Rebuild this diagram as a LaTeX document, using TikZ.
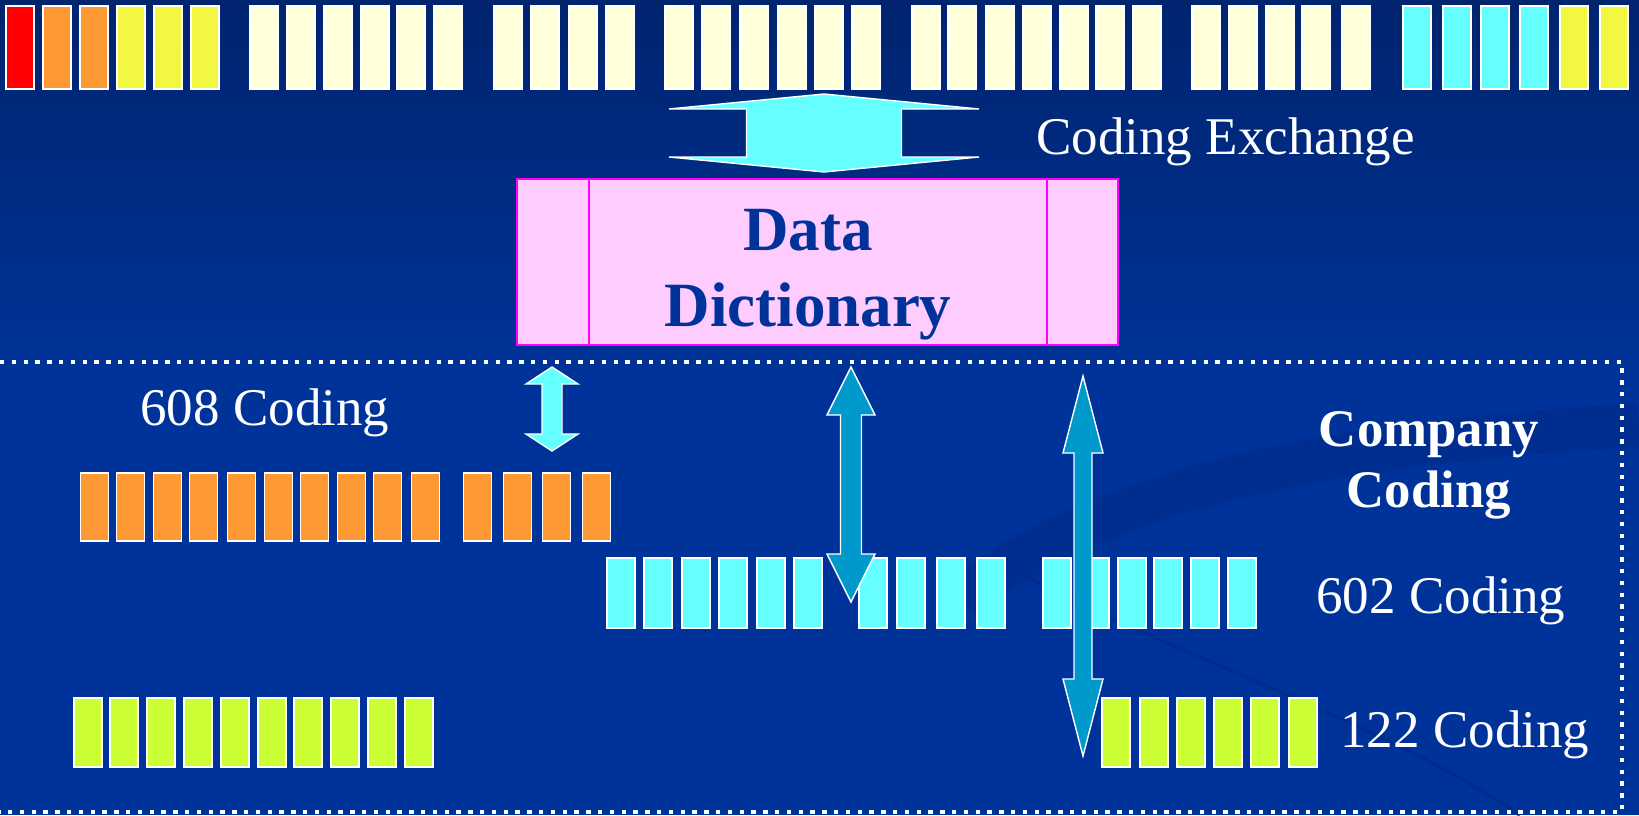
\documentclass[tikz,border=0pt]{standalone}
\usepackage{fontspec}
\setmainfont{Liberation Serif}
\usetikzlibrary{calc}

\definecolor{bgtop}{RGB}{0,36,110}
\definecolor{bgbot}{RGB}{0,51,153}
\definecolor{swoosh}{RGB}{0,44,138}
\definecolor{barred}{RGB}{255,0,0}
\definecolor{barorange}{RGB}{255,153,51}
\definecolor{baryellow}{RGB}{242,248,66}
\definecolor{barcream}{RGB}{255,255,218}
\definecolor{barcyan}{RGB}{102,255,255}
\definecolor{bargreen}{RGB}{204,255,51}
\definecolor{ddpink}{RGB}{255,204,255}
\definecolor{ddedge}{RGB}{255,0,255}
\definecolor{ddtext}{RGB}{0,51,153}
\definecolor{arrowblue}{RGB}{0,153,204}

\newcommand{\fatarrow}[6]{%
  \draw[fat, fill=#1] let \p1=(#2), \p2=(#3) in
    (\x1,\y1) -- (\x1+#5,\y1-#6) -- (\x1+#4,\y1-#6) -- (\x1+#4,\y2+#6)
    -- (\x1+#5,\y2+#6) -- (\x1,\y2) -- (\x1-#5,\y2+#6) -- (\x1-#4,\y2+#6)
    -- (\x1-#4,\y1-#6) -- (\x1-#5,\y1-#6) -- cycle;}

\begin{document}
\begin{tikzpicture}[x=0.5pt, y=-0.5pt,
  bar/.style={draw=white, line width=0.7pt, inner sep=0pt, minimum width=14pt},
  fat/.style={draw=white, line width=0.7pt, line join=miter},
  dict/.style={draw=ddedge, line width=1pt, fill=ddpink, inner sep=0pt, minimum width=300.5pt, minimum height=83pt},
  lbl/.style={text=white, inner sep=0pt, anchor=base west, font=\fontsize{26.5}{30}\selectfont},
  boldlbl/.style={inner sep=0pt, align=center, anchor=north},
  frame/.style={white, line width=2.2pt, dash pattern=on 2.2pt off 3.7pt}]

\useasboundingbox (0,0) rectangle (1639,815);
\shade[top color=bgtop, bottom color=bgbot] (0,0) rectangle (1639,380);
\fill[bgbot] (0,380) rectangle (1639,815);
\draw[swoosh, line width=22pt, opacity=0.6] (960,600) .. controls (1120,470) and (1400,440) .. (1639,425);
\draw[swoosh, line width=2pt, opacity=0.8] (995,560) .. controls (1180,660) and (1380,720) .. (1520,815);

% coding bars
\foreach \x/\c [count=\i] in {6/barred,43/barorange,80/barorange,117/baryellow,154/baryellow,191/baryellow,1403/barcyan,1443/barcyan,1481/barcyan,1520/barcyan,1560/baryellow,1600/baryellow}
  \node[bar] (c\i) [fill=\c, minimum height=41.5pt] at (\x+14,47.5) {};
\foreach \x [count=\i] in {250,287,324,361,397,434,494,531,569,606,665,702,740,778,815,852,912,948,986,1023,1060,1096,1133,1192,1229,1266,1302,1342}
  \node[bar] (w\i) [fill=barcream, minimum height=41.5pt] at (\x+14,47.5) {};
\foreach \x [count=\i] in {81,117,154,190,228,265,301,338,374,412,464,504,543,583}
  \node[bar] (o\i) [fill=barorange, minimum height=34pt] at (\x+13.5,507) {};
\foreach \x [count=\i] in {607,644,682,719,757,794,859,897,937,977,1043,1081,1118,1154,1191,1228}
  \node[bar] (k\i) [fill=barcyan, minimum height=35pt] at (\x+14,593) {};
\foreach \x [count=\i] in {74,110,147,184,221,258,294,331,368,405,1102,1140,1177,1214,1251,1289}
  \node[bar] (g\i) [fill=bargreen, minimum height=34.5pt] at (\x+14,732.5) {};

\node[dict] (dd) at (817.5,262) {};
\draw[ddedge, line width=1pt] ($(dd.north west)+(73,0)$) -- ($(dd.south west)+(73,0)$);
\draw[ddedge, line width=1pt] ($(dd.north east)+(-72,0)$) -- ($(dd.south east)+(-72,0)$);
\node[boldlbl] (ddname) [text=ddtext, font=\bfseries\fontsize{31.5}{38}\selectfont] at (808,209) {Data\\Dictionary};

\draw[frame] (0,362) -- (1622,362) -- (1622,812) -- (0,812);

\coordinate (ex1) at (824,94);
\coordinate (ex2) at (824,172);
\coordinate (a0t) at (552,367);
\coordinate (a0b) at (552,451);
\coordinate (a1t) at (851,367);
\coordinate (a1b) at (851,602);
\coordinate (a2t) at (1083,376);
\coordinate (a2b) at (1083,756);
\fatarrow{barcyan}{ex1}{ex2}{38.75pt}{77.5pt}{7.5pt}
\fatarrow{barcyan}{a0t}{a0b}{5pt}{13pt}{8.5pt}
\fatarrow{arrowblue}{a1t}{a1b}{5.25pt}{12pt}{24pt}
\fatarrow{arrowblue}{a2t}{a2b}{4.5pt}{10pt}{38.5pt}

\node[lbl] (xchg) at (1036,154) {Coding Exchange};
\node[lbl] (l608) at (140,425) {608 Coding};
\node[lbl] (l602) at (1316,613) {602 Coding};
\node[lbl] (l122) at (1340,747) {122 Coding};
\node[boldlbl] (comp) [text=white, font=\bfseries\fontsize{26.4}{30.5}\selectfont] at (1429,411) {Company\\Coding};

\end{tikzpicture}
\end{document}
